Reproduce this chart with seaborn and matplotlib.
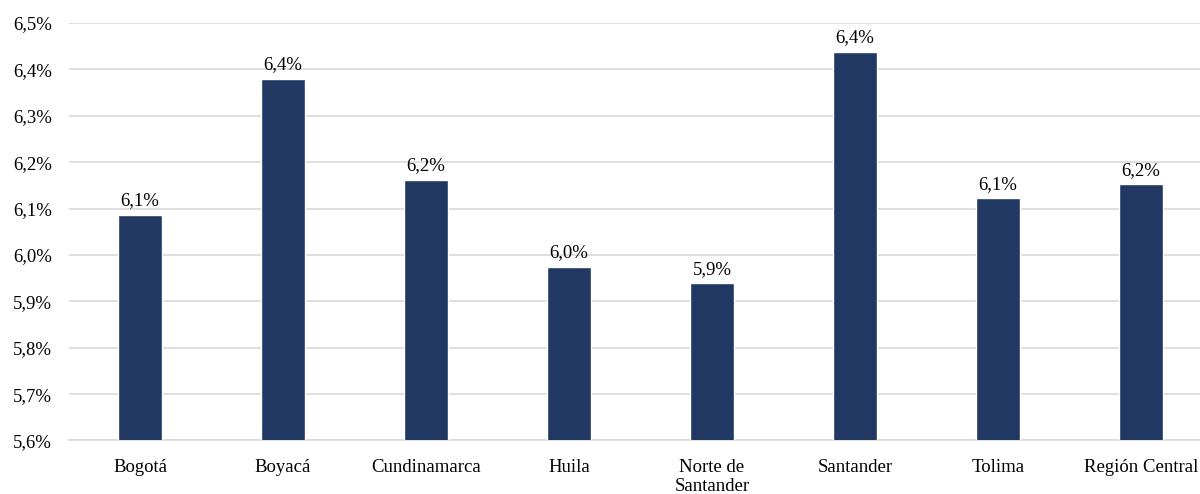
import matplotlib
matplotlib.use("Agg")
import matplotlib.pyplot as plt
import seaborn as sns
import pandas as pd
from matplotlib.ticker import FuncFormatter, MultipleLocator

categories = ["Bogotá", "Boyacá", "Cundinamarca", "Huila", "Norte de\nSantander",
              "Santander", "Tolima", "Región Central"]
values = [6.087, 6.380, 6.162, 5.975, 5.939, 6.438, 6.122, 6.152]
y_min, y_max, y_step = 5.6, 6.5, 0.1

sns.set_theme(style="white")
plt.rcParams['font.family'] = ['Liberation Serif', 'DejaVu Serif']

df = pd.DataFrame({"cat": categories, "val": values})

fig = plt.figure(figsize=(12, 4.94), dpi=100)
ax = fig.add_axes([68.5 / 1200, 0.1083, 1144 / 1200, 0.8451])

sns.barplot(data=df, x="cat", y="val", color="#213863", width=0.31,
            saturation=1, ax=ax, zorder=3)

ax.set_ylim(y_min, y_max)
ax.yaxis.set_major_locator(MultipleLocator(y_step))
ax.yaxis.set_major_formatter(FuncFormatter(lambda v, p: f"{v:.1f}%".replace(".", ",")))
ax.grid(axis="y", color="#d9d9d9", linewidth=1.2, zorder=0)
ax.set_axisbelow(True)
for s in ["top", "right", "left"]:
    ax.spines[s].set_visible(False)
ax.spines["bottom"].set_color("#d9d9d9")
ax.spines["bottom"].set_linewidth(1.2)
ax.set_xlabel("")
ax.set_ylabel("")
ax.tick_params(axis="both", length=0, labelsize=13.5, colors="black")
ax.tick_params(axis="x", pad=13)
ax.tick_params(axis="y", pad=12)
ax.set_xlim(-0.5, len(categories) - 0.5)

labels = [f"{v:.1f}%".replace(".", ",") for v in values]
ax.bar_label(ax.containers[0], labels=labels, padding=4, fontsize=13.5, color="black")

fig.savefig("out.png", dpi=100)
